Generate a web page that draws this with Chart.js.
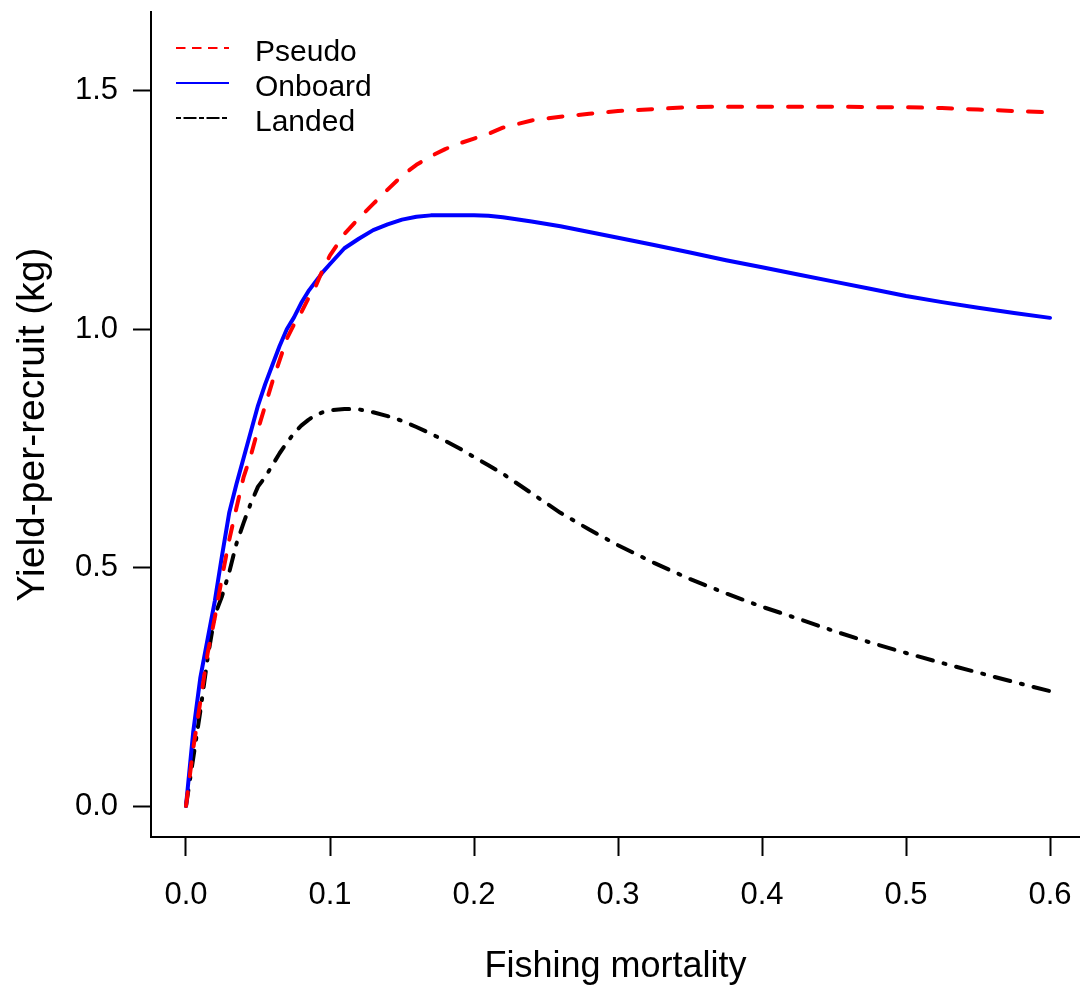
<!DOCTYPE html>
<html>
<head>
<meta charset="utf-8">
<title>Yield-per-recruit</title>
<script src="https://cdn.jsdelivr.net/npm/chart.js@4.4.1/dist/chart.umd.min.js"></script>
<style>
  html, body { margin: 0; padding: 0; background: #fff; }
  #wrap { width: 1080px; height: 989px; }
</style>
</head>
<body>
<div id="wrap"><canvas id="yprChart" width="1080" height="989"></canvas></div>
<script>
// Fishing mortality grid
const fishingMortality = [0, 0.005, 0.01, 0.015, 0.02, 0.025, 0.03, 0.035, 0.04, 0.045, 0.05,
  0.055, 0.06, 0.065, 0.07, 0.075, 0.08, 0.085, 0.09, 0.095, 0.1, 0.11, 0.12, 0.13, 0.14,
  0.15, 0.16, 0.17, 0.18, 0.19, 0.2, 0.21, 0.22, 0.24, 0.26, 0.28, 0.3, 0.325, 0.35, 0.375,
  0.4, 0.425, 0.45, 0.475, 0.5, 0.525, 0.55, 0.575, 0.6];

// Yield-per-recruit (kg) for each catch definition
const pseudoYield = [0, 0.12, 0.22, 0.32, 0.395, 0.48, 0.558, 0.625, 0.69, 0.735, 0.79,
  0.84, 0.89, 0.935, 0.98, 1.01, 1.035, 1.065, 1.09, 1.125, 1.155, 1.2, 1.233, 1.263, 1.293,
  1.322, 1.345, 1.363, 1.378, 1.39, 1.4, 1.41, 1.423, 1.438, 1.446, 1.452, 1.458, 1.462, 1.466, 1.467,
  1.467, 1.467, 1.467, 1.466, 1.466, 1.464, 1.461, 1.458, 1.455];

const onboardYield = [0, 0.155, 0.27, 0.35, 0.43, 0.525, 0.615, 0.675, 0.73, 0.785, 0.84,
  0.885, 0.925, 0.965, 1.0, 1.025, 1.055, 1.08, 1.1, 1.12, 1.137, 1.17, 1.19, 1.208, 1.22,
  1.23, 1.236, 1.239, 1.239, 1.239, 1.239, 1.238, 1.235, 1.226, 1.216, 1.204, 1.192, 1.177, 1.161, 1.145,
  1.13, 1.115, 1.1, 1.085, 1.07, 1.057, 1.045, 1.034, 1.024];

const landedYield = [0, 0.1, 0.2, 0.31, 0.4, 0.44, 0.49, 0.55, 0.594, 0.635, 0.67,
  0.69, 0.715, 0.74, 0.762, 0.782, 0.798, 0.81, 0.82, 0.826, 0.83, 0.833, 0.832, 0.826, 0.818,
  0.808, 0.795, 0.781, 0.766, 0.75, 0.732, 0.715, 0.697, 0.656, 0.615, 0.58, 0.547, 0.51, 0.476, 0.446,
  0.418, 0.393, 0.367, 0.343, 0.321, 0.3, 0.28, 0.26, 0.241];

const seriesNames = ['Pseudo', 'Onboard', 'Landed'];
const xTicks = [0, 0.1, 0.2, 0.3, 0.4, 0.5, 0.6];
const yTicks = [0, 0.5, 1.0, 1.5];

const FONT = "'Liberation Sans', Arial, Helvetica, sans-serif";

function toPoints(values) {
  return values.map((v, i) => ({ x: fishingMortality[i], y: v }));
}

// keep the plot box where it is: no extra room for edge tick labels
function noEdgePadding(scale) {
  scale.paddingTop = 0;
  scale.paddingBottom = 0;
  scale.paddingLeft = 0;
  scale.paddingRight = 0;
}

const lineBase = {
  fill: false,
  tension: 0,
  pointRadius: 0,
  borderWidth: 4,
  borderJoinStyle: 'round',
  borderCapStyle: 'round'
};

// R-style legend in the top-left corner of the plot
const cornerLegend = {
  id: 'cornerLegend',
  afterDatasetsDraw(chart) {
    const ctx = chart.ctx;
    ctx.save();
    chart.data.datasets.forEach((ds, i) => {
      const yLine = 48 + 35 * i;
      ctx.beginPath();
      ctx.strokeStyle = ds.borderColor;
      ctx.lineWidth = 2;
      ctx.lineCap = 'butt';
      ctx.setLineDash(ds.legendDash || []);
      ctx.moveTo(176, yLine);
      ctx.lineTo(229, yLine);
      ctx.stroke();
      ctx.setLineDash([]);
      ctx.fillStyle = '#000';
      ctx.font = '30px ' + FONT;
      ctx.textBaseline = 'middle';
      ctx.textAlign = 'left';
      ctx.fillText(ds.label, 255, yLine + 5);
    });
    ctx.restore();
  }
};

const ctx = document.getElementById('yprChart').getContext('2d');
new Chart(ctx, {
  type: 'line',
  data: {
    datasets: [
      Object.assign({}, lineBase, {
        label: seriesNames[0],
        data: toPoints(pseudoYield),
        borderColor: '#ff0000',
        borderDash: [14, 16],
        legendDash: [9.5, 6.5]
      }),
      Object.assign({}, lineBase, {
        label: seriesNames[1],
        data: toPoints(onboardYield),
        borderColor: '#0000ff',
        borderDash: [],
        legendDash: []
      }),
      Object.assign({}, lineBase, {
        label: seriesNames[2],
        data: toPoints(landedYield),
        borderColor: '#000000',
        borderDash: [16, 11, 2, 11],
        legendDash: [5, 2.5, 13, 2.5]
      })
    ]
  },
  options: {
    responsive: false,
    animation: false,
    layout: { padding: { top: 12, right: 0, bottom: 0, left: 0 } },
    plugins: {
      legend: { display: false },
      tooltip: { enabled: false }
    },
    scales: {
      x: {
        type: 'linear',
        min: -0.0243,
        max: 0.6208,
        afterBuildTicks: (scale) => { scale.ticks = xTicks.map(v => ({ value: v })); },
        afterFit: (scale) => { scale.height = 152; noEdgePadding(scale); },
        ticks: {
          color: '#000',
          font: { family: FONT, size: 31 },
          padding: 21,
          maxRotation: 0,
          autoSkip: false,
          callback: (v) => Number(v).toFixed(1)
        },
        grid: {
          display: true,
          drawOnChartArea: false,
          drawTicks: true,
          tickLength: 19,
          tickWidth: 2,
          tickColor: '#000'
        },
        border: { display: true, color: '#000', width: 2 },
        title: {
          display: true,
          text: 'Fishing mortality',
          color: '#000',
          font: { family: FONT, size: 36 },
          padding: { top: 0, bottom: 0 }
        }
      },
      y: {
        type: 'linear',
        min: -0.065,
        max: 1.6656,
        afterBuildTicks: (scale) => { scale.ticks = yTicks.map(v => ({ value: v })); },
        afterFit: (scale) => { scale.width = 151; noEdgePadding(scale); },
        ticks: {
          color: '#000',
          font: { family: FONT, size: 31 },
          padding: 15,
          autoSkip: false,
          callback: (v) => Number(v).toFixed(1)
        },
        grid: {
          display: true,
          drawOnChartArea: false,
          drawTicks: true,
          tickLength: 18,
          tickWidth: 2,
          tickColor: '#000'
        },
        border: { display: true, color: '#000', width: 2 },
        title: {
          display: true,
          text: 'Yield-per-recruit (kg)',
          color: '#000',
          font: { family: FONT, size: 39 },
          padding: { top: 10, bottom: 0 }
        }
      }
    }
  },
  plugins: [cornerLegend]
});
</script>
</body>
</html>
